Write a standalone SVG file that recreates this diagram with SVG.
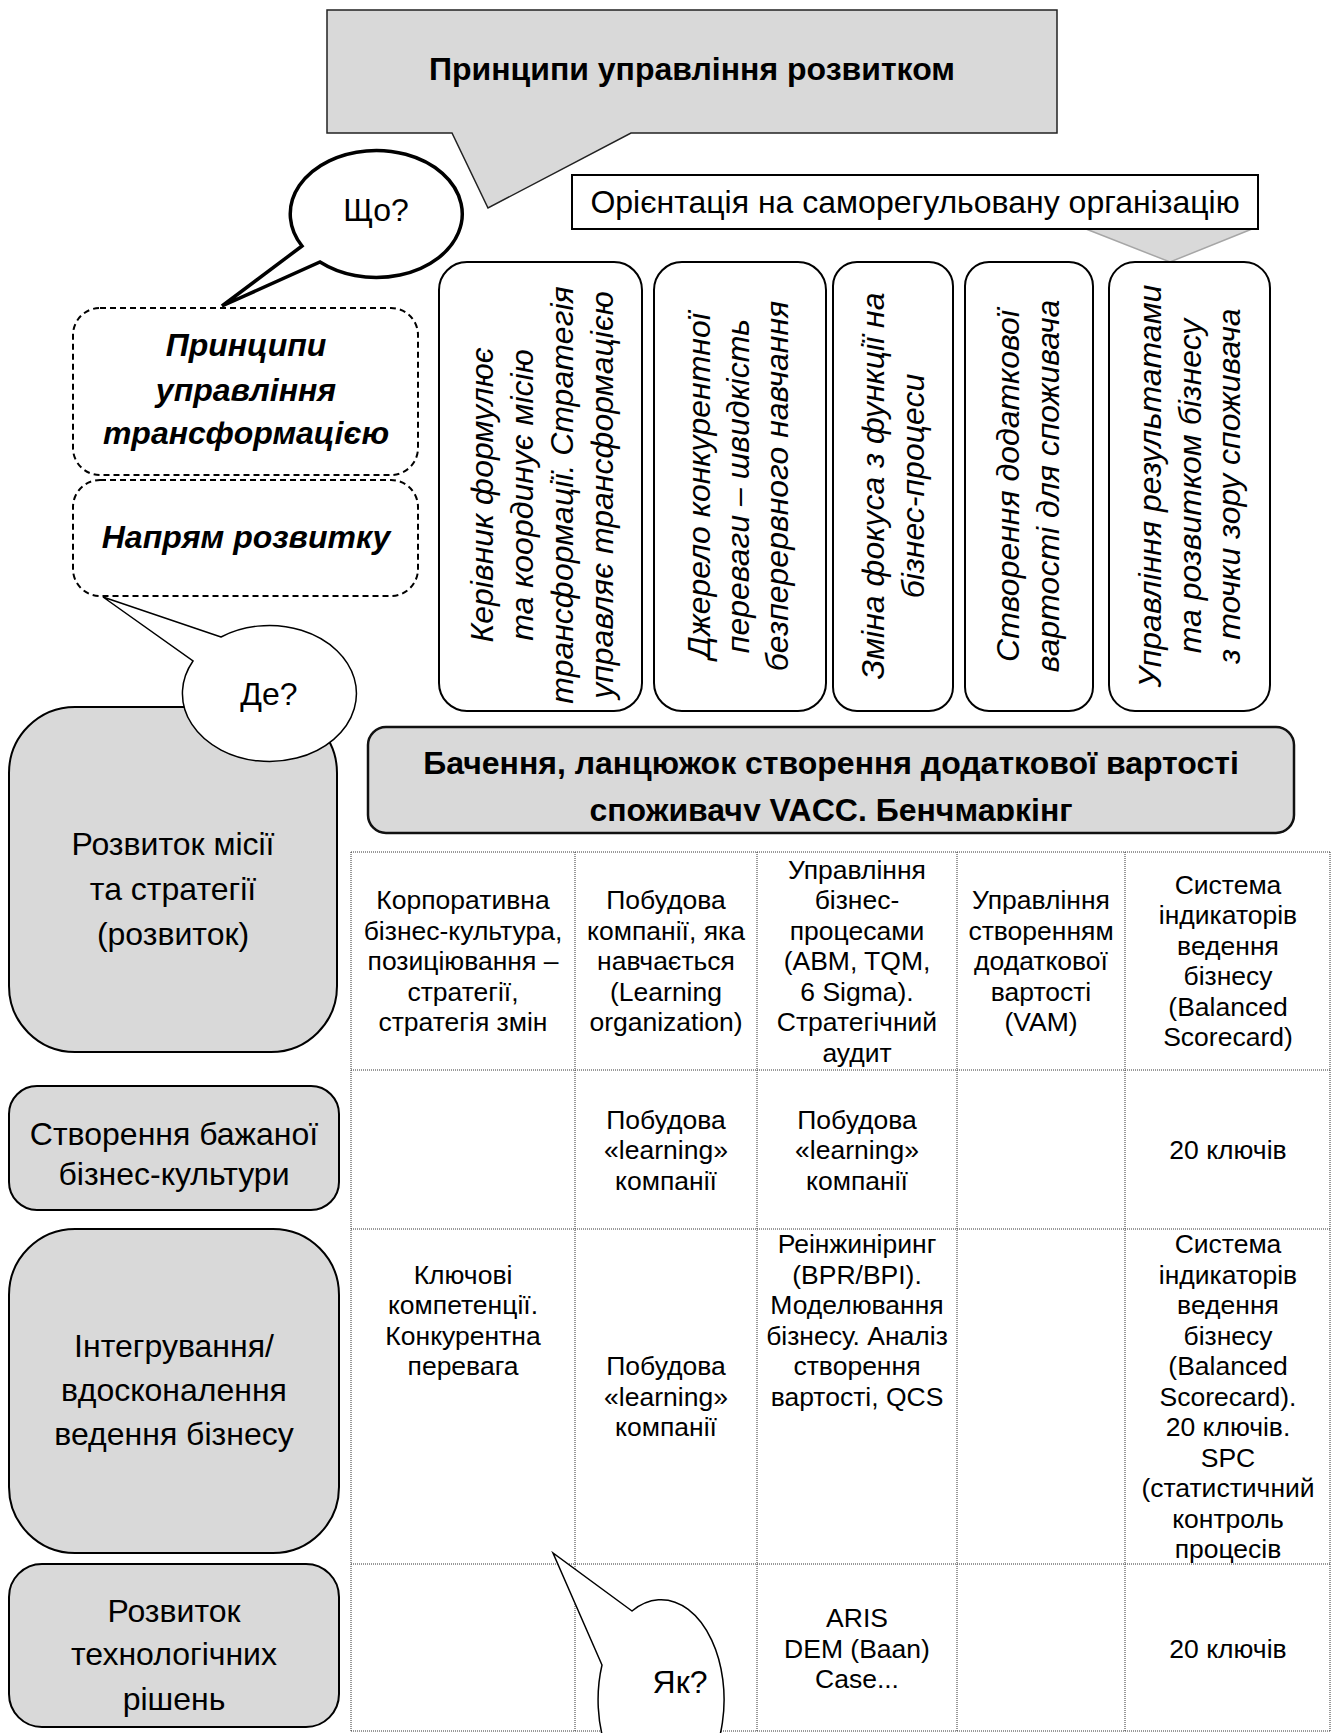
<svg xmlns="http://www.w3.org/2000/svg" width="1333" height="1733" viewBox="0 0 1333 1733">
  <defs>
    <style>
      .t { font-family: "Liberation Sans", Arial, sans-serif; font-size: 32px; fill: #000; }
      .b { font-weight: bold; }
      .i { font-style: italic; }
      .m { text-anchor: middle; }
      .tc { font-family: "Liberation Sans", Arial, sans-serif; font-size: 26.5px; fill: #000; text-anchor: middle; }
      .gray { fill: #d9d9d9; stroke: #000; stroke-width: 2; }
      .white { fill: #fff; stroke: #000; stroke-width: 2; }
      .dash { fill: #fff; stroke: #000; stroke-width: 2; stroke-dasharray: 6 4; }
      .grid { stroke: #333; stroke-width: 1; stroke-dasharray: 1 1; fill: none; }
    </style>
    <!-- the second line of the vision bar runs past the box and is cut off at its inner edge -->
    <clipPath id="visionClip">
      <rect x="368" y="726" width="926" height="95"/>
    </clipPath>
  </defs>

  <rect width="1333" height="1733" fill="#fff"/>

  <!-- headline callout -->
  <g id="title">
    <path d="M327,10 H1057 V133 H631 L488,208 L452,133 H327 Z" fill="#d9d9d9" stroke="#222" stroke-width="1.5"/>
    <text class="t b m" x="692" y="80">Принципи управління розвитком</text>
  </g>

  <!-- orientation label with its pointer -->
  <g id="orientation">
    <path d="M1086,229 L1252,229 L1170,262 Z" fill="#d9d9d9" stroke="#a6a6a6" stroke-width="1.5"/>
    <rect class="white" x="572" y="175" width="686" height="54"/>
    <text class="t m" x="915" y="213">Орієнтація на саморегульовану організацію</text>
  </g>

  <!-- "what" bubble -->
  <g id="what">
    <path d="M302,246 L222,306 L320,262 A86 63.5 0 1 0 302,246 Z" fill="#fff" stroke="#000" stroke-width="3.5" stroke-linejoin="miter"/>
    <text class="t m" x="376" y="221">Що?</text>
  </g>

  <!-- dashed headings -->
  <g id="transform">
    <rect class="dash" x="73" y="308" width="345" height="167" rx="27"/>
    <text class="t b i m" x="246" y="356">Принципи</text>
    <text class="t b i m" x="246" y="401">управління</text>
    <text class="t b i m" x="246" y="444">трансформацією</text>
  </g>
  <g id="direction">
    <rect class="dash" x="73" y="480" width="345" height="116" rx="27"/>
    <text class="t b i m" x="246" y="548">Напрям розвитку</text>
  </g>

  <!-- vertical principle cards -->
  <g id="card1">
    <rect class="white" x="439" y="262" width="203" height="449" rx="28"/>
    <g class="t i m">
      <text transform="translate(493,495) rotate(-90)">Керівник формулює</text>
      <text transform="translate(533,495) rotate(-90)">та координує місію</text>
      <text transform="translate(573,495) rotate(-90)">трансформації.  Стратегія</text>
      <text transform="translate(613,495) rotate(-90)">управляє трансформацією</text>
    </g>
  </g>
  <g id="card2">
    <rect class="white" x="654" y="262" width="172" height="449" rx="28"/>
    <g class="t i m">
      <text transform="translate(710,486) rotate(-90)">Джерело конкурентної</text>
      <text transform="translate(749,486) rotate(-90)">переваги – швидкість</text>
      <text transform="translate(788,486) rotate(-90)">безперервного навчання</text>
    </g>
  </g>
  <g id="card3">
    <rect class="white" x="833" y="262" width="120" height="449" rx="24"/>
    <g class="t i m">
      <text transform="translate(884,486) rotate(-90)">Зміна фокуса з функції на</text>
      <text transform="translate(924,486) rotate(-90)">бізнес-процеси</text>
    </g>
  </g>
  <g id="card4">
    <rect class="white" x="965" y="262" width="128" height="449" rx="24"/>
    <g class="t i m">
      <text transform="translate(1019,486) rotate(-90)">Створення додаткової</text>
      <text transform="translate(1059,486) rotate(-90)">вартості для споживача</text>
    </g>
  </g>
  <g id="card5">
    <rect class="white" x="1109" y="262" width="161" height="449" rx="26"/>
    <g class="t i m">
      <text transform="translate(1161,486) rotate(-90)">Управління результатами</text>
      <text transform="translate(1201,486) rotate(-90)">та розвитком бізнесу</text>
      <text transform="translate(1240,486) rotate(-90)">з точки зору споживача</text>
    </g>
  </g>

  <!-- vision bar -->
  <g id="vision">
    <rect x="368" y="727" width="926" height="106" rx="18" fill="#d9d9d9" stroke="#111" stroke-width="2.5"/>
    <g clip-path="url(#visionClip)">
      <text class="t b m" x="831" y="774">Бачення, ланцюжок створення додаткової вартості</text>
      <text class="t b m" x="831" y="821">споживачу VACC. Бенчмаркінг</text>
    </g>
  </g>

  <!-- row headings -->
  <g id="row-strategy">
    <rect class="gray" x="9" y="707" width="328" height="345" rx="66"/>
    <text class="t m" x="173" y="855">Розвиток місії</text>
    <text class="t m" x="173" y="900">та стратегії</text>
    <text class="t m" x="173" y="945">(розвиток)</text>
  </g>
  <g id="row-culture">
    <rect class="gray" x="9" y="1086" width="330" height="124" rx="28"/>
    <text class="t m" x="174" y="1145">Створення бажаної</text>
    <text class="t m" x="174" y="1185">бізнес-культури</text>
  </g>
  <g id="row-integration">
    <rect class="gray" x="9" y="1229" width="330" height="324" rx="66"/>
    <text class="t m" x="174" y="1357">Інтегрування/</text>
    <text class="t m" x="174" y="1401">вдосконалення</text>
    <text class="t m" x="174" y="1445">ведення бізнесу</text>
  </g>
  <g id="row-technology">
    <rect class="gray" x="9" y="1564" width="330" height="163" rx="33"/>
    <text class="t m" x="174" y="1622">Розвиток</text>
    <text class="t m" x="174" y="1665">технологічних</text>
    <text class="t m" x="174" y="1710">рішень</text>
  </g>

  <!-- "where" bubble -->
  <g id="where">
    <path d="M221,637 L103,597 L193,661 A87 68 0 1 0 221,637 Z" fill="#fff" stroke="#000" stroke-width="1.5"/>
    <text class="t m" x="269" y="705">Де?</text>
  </g>

  <!-- table rulings -->
  <g id="grid" class="grid">
    <line x1="351" y1="852" x2="1330" y2="852"/>
    <line x1="351" y1="1070" x2="1330" y2="1070"/>
    <line x1="351" y1="1229" x2="1330" y2="1229"/>
    <line x1="351" y1="1564" x2="1330" y2="1564"/>
    <line x1="351" y1="1731" x2="1330" y2="1731"/>
    <line x1="351" y1="852" x2="351" y2="1731"/>
    <line x1="575" y1="852" x2="575" y2="1731"/>
    <line x1="757" y1="852" x2="757" y2="1731"/>
    <line x1="957" y1="852" x2="957" y2="1731"/>
    <line x1="1125" y1="852" x2="1125" y2="1731"/>
    <line x1="1330" y1="852" x2="1330" y2="1731"/>
  </g>

  <!-- table cells -->
  <g id="cells" class="tc">
    <text x="463" y="909">Корпоративна</text>
    <text x="463" y="939.5">бізнес-культура,</text>
    <text x="463" y="970">позиціювання –</text>
    <text x="463" y="1000.5">стратегії,</text>
    <text x="463" y="1031">стратегія змін</text>

    <text x="666" y="909">Побудова</text>
    <text x="666" y="939.5">компанії, яка</text>
    <text x="666" y="970">навчається</text>
    <text x="666" y="1000.5">(Learning</text>
    <text x="666" y="1031">organization)</text>

    <text x="857" y="878.5">Управління</text>
    <text x="857" y="909">бізнес-</text>
    <text x="857" y="939.5">процесами</text>
    <text x="857" y="970">(ABM, TQM,</text>
    <text x="857" y="1000.5">6 Sigma).</text>
    <text x="857" y="1031">Стратегічний</text>
    <text x="857" y="1061.5">аудит</text>

    <text x="1041" y="909">Управління</text>
    <text x="1041" y="939.5">створенням</text>
    <text x="1041" y="970">додаткової</text>
    <text x="1041" y="1000.5">вартості</text>
    <text x="1041" y="1031">(VAM)</text>

    <text x="1228" y="893.75">Система</text>
    <text x="1228" y="924.25">індикаторів</text>
    <text x="1228" y="954.75">ведення</text>
    <text x="1228" y="985.25">бізнесу</text>
    <text x="1228" y="1015.75">(Balanced</text>
    <text x="1228" y="1046.25">Scorecard)</text>

    <text x="666" y="1128.5">Побудова</text>
    <text x="666" y="1159">«learning»</text>
    <text x="666" y="1189.5">компанії</text>
    <text x="857" y="1128.5">Побудова</text>
    <text x="857" y="1159">«learning»</text>
    <text x="857" y="1189.5">компанії</text>
    <text x="1228" y="1158.5">20 ключів</text>

    <text x="463" y="1283.5">Ключові</text>
    <text x="463" y="1314">компетенції.</text>
    <text x="463" y="1344.5">Конкурентна</text>
    <text x="463" y="1375">перевага</text>

    <text x="666" y="1375">Побудова</text>
    <text x="666" y="1405.5">«learning»</text>
    <text x="666" y="1436">компанії</text>

    <text x="857" y="1253">Реінжиніринг</text>
    <text x="857" y="1283.5">(BPR/BPI).</text>
    <text x="857" y="1314">Моделювання</text>
    <text x="857" y="1344.5">бізнесу. Аналіз</text>
    <text x="857" y="1375">створення</text>
    <text x="857" y="1405.5">вартості, QCS</text>

    <text x="1228" y="1253">Система</text>
    <text x="1228" y="1283.5">індикаторів</text>
    <text x="1228" y="1314">ведення</text>
    <text x="1228" y="1344.5">бізнесу</text>
    <text x="1228" y="1375">(Balanced</text>
    <text x="1228" y="1405.5">Scorecard).</text>
    <text x="1228" y="1436">20 ключів.</text>
    <text x="1228" y="1466.5">SPC</text>
    <text x="1228" y="1497">(статистичний</text>
    <text x="1228" y="1527.5">контроль</text>
    <text x="1228" y="1558">процесів</text>

    <text x="857" y="1627">ARIS</text>
    <text x="857" y="1657.5">DEM (Baan)</text>
    <text x="857" y="1688">Case...</text>
    <text x="1228" y="1657.5">20 ключів</text>
  </g>

  <!-- "how" bubble -->
  <g id="how">
    <path d="M632,1611 L553,1553 L602,1665 A63 100 0 1 0 632,1611 Z" fill="#fff" stroke="#000" stroke-width="1.5"/>
    <text class="t m" x="680" y="1693">Як?</text>
  </g>
</svg>
